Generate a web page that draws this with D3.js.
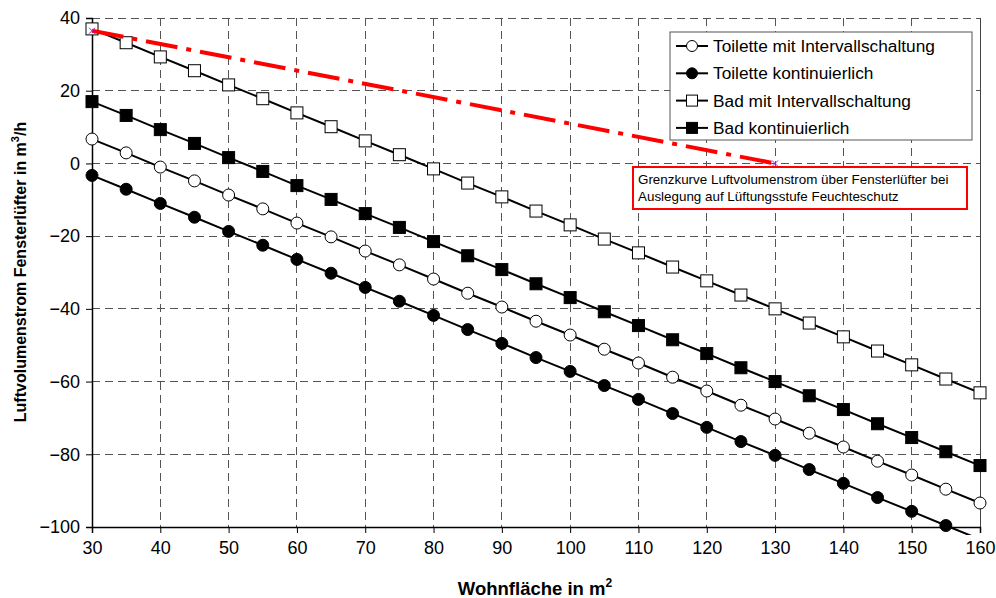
<!DOCTYPE html>
<html>
<head>
<meta charset="utf-8">
<script src="https://cdn.jsdelivr.net/npm/d3@7"></script>
<style>
  html, body { margin: 0; padding: 0; background: #fff; }
  svg { display: block; font-family: "Liberation Sans", Arial, sans-serif; }
</style>
</head>
<body>
<svg id="chart" width="996" height="598"></svg>
<script>
// Wohnfläche (m²) sampled every 5 m²
const areas = [30, 35, 40, 45, 50, 55, 60, 65, 70, 75, 80, 85, 90, 95, 100,
               105, 110, 115, 120, 125, 130, 135, 140, 145, 150, 155, 160];

// Luftvolumenstrom über Fensterlüfter in m³/h
const toiletteIntervall = [6.7, 2.9, -1.0, -4.8, -8.7, -12.5, -16.4, -20.2, -24.1, -27.9, -31.8, -35.7, -39.5, -43.4,
                           -47.2, -51.1, -54.9, -58.8, -62.6, -66.5, -70.3, -74.2, -78.0, -81.9, -85.7, -89.6, -93.4];
const toiletteKontinuierlich = [-3.3, -7.1, -11.0, -14.8, -18.7, -22.5, -26.4, -30.2, -34.1, -37.9, -41.8, -45.7, -49.5, -53.4,
                                -57.2, -61.1, -64.9, -68.8, -72.6, -76.5, -80.3, -84.2, -88.0, -91.9, -95.7, -99.6, -103.4];
const badIntervall = [37.0, 33.2, 29.3, 25.5, 21.6, 17.8, 13.9, 10.1, 6.2, 2.4, -1.5, -5.4, -9.2, -13.1,
                      -16.9, -20.8, -24.6, -28.5, -32.3, -36.2, -40.0, -43.9, -47.7, -51.6, -55.4, -59.3, -63.1];
const badKontinuierlich = [17.0, 13.2, 9.3, 5.5, 1.6, -2.2, -6.1, -9.9, -13.8, -17.6, -21.5, -25.4, -29.2, -33.1,
                           -36.9, -40.8, -44.6, -48.5, -52.3, -56.2, -60.0, -63.9, -67.7, -71.6, -75.4, -79.3, -83.1];

// Grenzkurve (Lüftungsstufe Feuchteschutz)
const grenzAreas = [30, 130];
const grenzValues = [36.5, 0];

const seriesNames = ["Toilette mit Intervallschaltung", "Toilette kontinuierlich",
                     "Bad mit Intervallschaltung", "Bad kontinuierlich"];
const xTicks = [30, 40, 50, 60, 70, 80, 90, 100, 110, 120, 130, 140, 150, 160];
const yTicks = [40, 20, 0, -20, -40, -60, -80, -100];
const xTitle = "Wohnfläche in m";
const yTitle = "Luftvolumenstrom Fensterlüfter in m";
const noteLines = ["Grenzkurve Luftvolumenstrom über Fensterlüfter bei",
                   "Auslegung auf Lüftungsstufe Feuchteschutz"];

const series = [
  { name: seriesNames[0], values: toiletteIntervall, shape: "circle", fill: "#fff" },
  { name: seriesNames[1], values: toiletteKontinuierlich, shape: "circle", fill: "#000" },
  { name: seriesNames[2], values: badIntervall, shape: "square", fill: "#fff" },
  { name: seriesNames[3], values: badKontinuierlich, shape: "square", fill: "#000" }
];

const svg = d3.select("#chart");
const plot = { left: 92, right: 980, top: 18, bottom: 527 };

const x = d3.scaleLinear().domain([30, 160]).range([plot.left, plot.right]);
const y = d3.scaleLinear().domain([-100, 40]).range([plot.bottom, plot.top]);

// Grid
const grid = svg.append("g").attr("stroke", "#555").attr("stroke-width", 1)
  .attr("stroke-dasharray", "8,5").attr("shape-rendering", "crispEdges");
grid.selectAll("line.gx").data(xTicks.filter(d => d > 30 && d < 160)).join("line")
  .attr("x1", d => x(d)).attr("x2", d => x(d))
  .attr("y1", plot.top).attr("y2", plot.bottom);
grid.selectAll("line.gy").data(yTicks.filter(d => d > -100)).join("line")
  .attr("x1", plot.left).attr("x2", plot.right)
  .attr("y1", d => y(d)).attr("y2", d => y(d));

// Right border of plot area
svg.append("line").attr("x1", plot.right).attr("x2", plot.right)
  .attr("y1", plot.top).attr("y2", plot.bottom)
  .attr("stroke", "#444").attr("stroke-width", 1).attr("shape-rendering", "crispEdges");

// Axes
const xAxis = d3.axisBottom(x).tickValues(xTicks).tickSize(6).tickPadding(8).tickFormat(d3.format("d"));
const yAxis = d3.axisLeft(y).tickValues(yTicks).tickSize(6).tickPadding(6).tickFormat(d3.format("d"));

const gx = svg.append("g").attr("transform", `translate(0,${plot.bottom})`).call(xAxis);
const gy = svg.append("g").attr("transform", `translate(${plot.left},0)`).call(yAxis);
[gx, gy].forEach(g => {
  g.select(".domain").attr("stroke", "#000").attr("stroke-width", 1.5);
  g.selectAll(".tick line").attr("stroke", "#000").attr("stroke-width", 1);
  g.selectAll(".tick text").attr("font-size", 18).attr("fill", "#000")
    .attr("font-family", "'Liberation Sans', Arial, sans-serif");
});

// Series lines and markers
const clipId = "plotclip";
svg.append("clipPath").attr("id", clipId).append("rect")
  .attr("x", plot.left - 10).attr("y", plot.top - 10)
  .attr("width", plot.right - plot.left + 20).attr("height", plot.bottom - plot.top + 18);

const line = d3.line().x(d => x(d[0])).y(d => y(d[1]));
const marks = svg.append("g").attr("clip-path", `url(#${clipId})`);

series.forEach(s => {
  const pts = areas.map((a, i) => [a, s.values[i]]);
  marks.append("path").datum(pts).attr("d", line)
    .attr("fill", "none").attr("stroke", "#000").attr("stroke-width", 2);
  const visible = pts.filter(p => p[1] >= -100);
  if (s.shape === "circle") {
    marks.selectAll(null).data(visible).join("circle")
      .attr("cx", d => x(d[0])).attr("cy", d => y(d[1])).attr("r", 6)
      .attr("fill", s.fill).attr("stroke", "#000").attr("stroke-width", 1);
  } else {
    marks.selectAll(null).data(visible).join("rect")
      .attr("x", d => x(d[0]) - 6).attr("y", d => y(d[1]) - 6)
      .attr("width", 12).attr("height", 12)
      .attr("fill", s.fill).attr("stroke", "#000").attr("stroke-width", 1);
  }
});

// Grenzkurve (red dash-dot)
const grenzPts = grenzAreas.map((a, i) => [a, grenzValues[i]]);
svg.append("path").datum(grenzPts).attr("d", line)
  .attr("fill", "none").attr("stroke", "#ff0000").attr("stroke-width", 4)
  .attr("stroke-dasharray", "32,9,5,9");
grenzPts.forEach(p => {
  const cx = x(p[0]), cy = y(p[1]);
  svg.append("path")
    .attr("d", `M${cx - 3},${cy - 3}L${cx + 3},${cy + 3}M${cx - 3},${cy + 3}L${cx + 3},${cy - 3}`)
    .attr("stroke", "#8a2be2").attr("stroke-width", 1);
});

// Note box
const note = svg.append("g");
note.append("rect").attr("x", 633).attr("y", 167).attr("width", 334).attr("height", 42)
  .attr("fill", "#fff").attr("stroke", "#ff0000").attr("stroke-width", 2);
noteLines.forEach((t, i) => {
  note.append("text").attr("x", 638).attr("y", 184 + i * 17)
    .attr("font-size", 13.4).attr("fill", "#000").text(t);
});

// Legend
const legend = svg.append("g");
legend.append("rect").attr("x", 670).attr("y", 32).attr("width", 302).attr("height", 108)
  .attr("fill", "#fff").attr("stroke", "#555").attr("stroke-width", 1);
series.forEach((s, i) => {
  const ly = 46 + i * 27.3;
  legend.append("line").attr("x1", 676).attr("x2", 708).attr("y1", ly).attr("y2", ly)
    .attr("stroke", "#000").attr("stroke-width", 2);
  if (s.shape === "circle") {
    legend.append("circle").attr("cx", 692).attr("cy", ly).attr("r", 5.5)
      .attr("fill", s.fill).attr("stroke", "#000");
  } else {
    legend.append("rect").attr("x", 686.5).attr("y", ly - 5.5).attr("width", 11).attr("height", 11)
      .attr("fill", s.fill).attr("stroke", "#000");
  }
  legend.append("text").attr("x", 713).attr("y", ly + 6).attr("font-size", 17.3)
    .attr("fill", "#000").text(s.name);
});

// Axis titles
const xt = svg.append("text").attr("x", 535).attr("y", 595).attr("text-anchor", "middle")
  .attr("font-size", 18.5).attr("font-weight", "bold").attr("fill", "#000");
xt.append("tspan").text(xTitle);
xt.append("tspan").attr("dy", -8).attr("font-size", 12).text("2");

const yt = svg.append("text").attr("transform", "translate(26,272) rotate(-90)")
  .attr("text-anchor", "middle").attr("font-size", 16).attr("font-weight", "bold").attr("fill", "#000");
yt.append("tspan").text(yTitle);
yt.append("tspan").attr("dy", -7).attr("font-size", 11).text("3");
yt.append("tspan").attr("dy", 7).text("/h");
</script>
</body>
</html>
